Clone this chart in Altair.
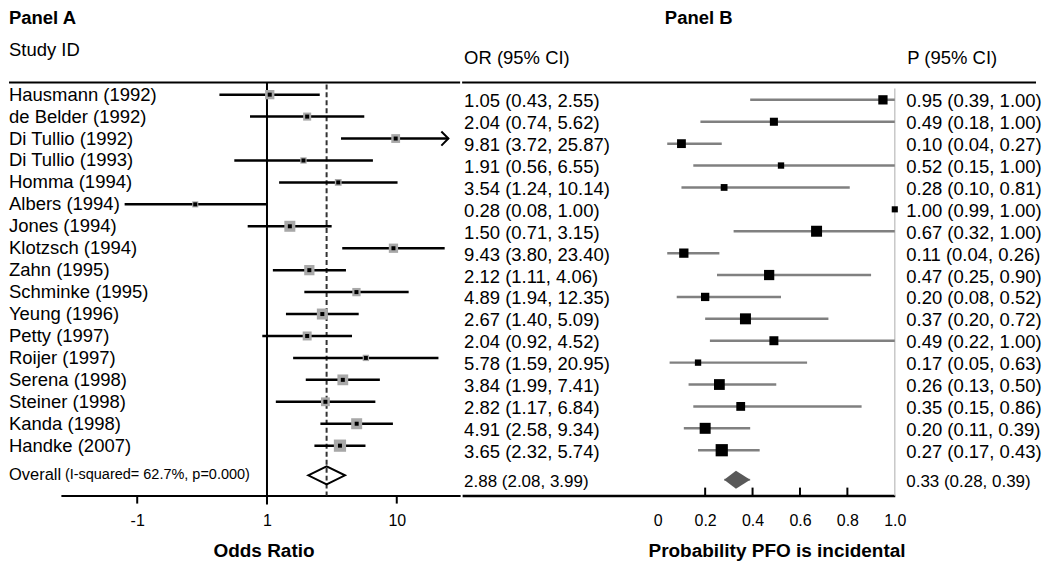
import altair as alt
import pandas as pd

# ---------------- data ----------------
studies = ["Hausmann (1992)", "de Belder (1992)", "Di Tullio (1992)", "Di Tullio (1993)",
           "Homma (1994)", "Albers (1994)", "Jones (1994)", "Klotzsch (1994)", "Zahn (1995)",
           "Schminke (1995)", "Yeung (1996)", "Petty (1997)", "Roijer (1997)", "Serena (1998)",
           "Steiner (1998)", "Kanda (1998)", "Handke (2007)"]
or_est = [1.05, 2.04, 9.81, 1.91, 3.54, 0.28, 1.50, 9.43, 2.12, 4.89, 2.67, 2.04, 5.78, 3.84, 2.82, 4.91, 3.65]
or_lo = [0.43, 0.74, 3.72, 0.56, 1.24, 0.08, 0.71, 3.80, 1.11, 1.94, 1.40, 0.92, 1.59, 1.99, 1.17, 2.58, 2.32]
or_hi = [2.55, 5.62, 25.87, 6.55, 10.14, 1.00, 3.15, 23.40, 4.06, 12.35, 5.09, 4.52, 20.95, 7.41, 6.84, 9.34, 5.74]
p_est = [0.95, 0.49, 0.10, 0.52, 0.28, 1.00, 0.67, 0.11, 0.47, 0.20, 0.37, 0.49, 0.17, 0.26, 0.35, 0.20, 0.27]
p_lo = [0.39, 0.18, 0.04, 0.15, 0.10, 0.99, 0.32, 0.04, 0.25, 0.08, 0.20, 0.22, 0.05, 0.13, 0.15, 0.11, 0.17]
p_hi = [1.00, 1.00, 0.27, 1.00, 0.81, 1.00, 1.00, 0.26, 0.90, 0.52, 0.72, 1.00, 0.63, 0.50, 0.86, 0.39, 0.43]
weights = [6.0, 4.5, 5.4, 2.8, 3.2, 2.6, 8.4, 6.0, 7.3, 4.8, 8.4, 5.6, 2.8, 8.1, 5.4, 8.4, 10.4]

overall_label = "Overall"
overall_het = "(I-squared= 62.7%, p=0.000)"
overall_or = [2.88, 2.08, 3.99]
overall_p = [0.33, 0.28, 0.39]

or_tick_values = [0.1, 1, 10]
or_tick_labels = ["-1", "1", "10"]
p_tick_values = [0, 0.2, 0.4, 0.6, 0.8, 1.0]
p_tick_labels = ["0", "0.2", "0.4", "0.6", "0.8", "1.0"]
or_null = [1.0]
or_clip = 25.0
p_ref = [1.0]

# ---------------- layout / style ----------------
FONT = "Liberation Sans"
FS = 18.5
H = 488
WA = 400
WB = 433.5
LX = -52
ROW_OVERALL = 17.35
DH = 0.41


def fmt(e, l, h):
    return f"{e:.2f} ({l:.2f}, {h:.2f})"


def label_expr(values, labels):
    expr = "datum.label"
    for v, l in reversed(list(zip(values, labels))):
        expr = f"abs(datum.value - {v}) < {abs(v) * 1e-6 + 1e-9} ? '{l}' : ({expr})"
    return expr


def txt(s, x, y, size=FS, weight="normal", align="left", baseline="middle"):
    return alt.Chart(pd.DataFrame({"t": [s]})).mark_text(
        align=align, baseline=baseline, font=FONT, fontSize=size,
        fontWeight=weight, color="black"
    ).encode(x=alt.value(x), y=alt.value(y), text="t:N")


n = len(studies)
rows = list(range(n))
dfA = pd.DataFrame({"study": studies, "row": rows, "est": or_est, "lo": or_lo,
                    "hi": or_hi, "w": weights})
dfB = pd.DataFrame({"row": rows, "est": p_est, "lo": p_lo, "hi": p_hi, "w": weights,
                    "or_txt": [fmt(*t) for t in zip(or_est, or_lo, or_hi)],
                    "p_txt": [fmt(*t) for t in zip(p_est, p_lo, p_hi)]})
r0 = ROW_OVERALL
diaA = pd.DataFrame({"x": [overall_or[1], overall_or[0], overall_or[2]],
                     "y": [r0, r0 - DH, r0], "y2": [r0, r0 + DH, r0]})
diaB = pd.DataFrame({"x": [overall_p[1], overall_p[0], overall_p[2]],
                     "y": [r0, r0 - DH, r0], "y2": [r0, r0 + DH, r0]})
ovA = pd.DataFrame({"row": [r0], "est": [overall_or[0]], "lo": [overall_or[1]], "hi": [overall_or[2]],
                    "label": [overall_label], "het": [overall_het]})
ovB = pd.DataFrame({"row": [r0], "est": [overall_p[0]], "lo": [overall_p[1]], "hi": [overall_p[2]],
                    "or_txt": [fmt(*overall_or)], "p_txt": [fmt(*overall_p)]})

# ---------------- scales / axes ----------------
xA = alt.Scale(type="log", domain=[0.02582, 30.78], nice=False)
yA = alt.Scale(domain=[-3.926, 18.276], reverse=True, nice=False, zero=False)
xB = alt.Scale(domain=[-0.8253, 1.0], nice=False, zero=False)
yB = alt.Scale(domain=[-4.170, 18.072], reverse=True, nice=False, zero=False)

common_axis = dict(ticks=False, grid=False, domainColor="black", labelFont=FONT,
                   labelFontSize=16, labelColor="black", labelBaseline="middle",
                   labelPadding=25, labelAngle=0, labelOverlap=False, labelFlush=False,
                   labelBound=False,
                   titleFont=FONT, titleFontSize=19, titleFontWeight="bold",
                   titleColor="black", titleY=55, titleBaseline="middle")
axisA = alt.Axis(values=or_tick_values, labelExpr=label_expr(or_tick_values, or_tick_labels),
                 domainWidth=2, title="Odds Ratio", titleX=203, **common_axis)
axisB = alt.Axis(values=p_tick_values, labelExpr=label_expr(p_tick_values, p_tick_labels),
                 domainWidth=2.5, title="Probability PFO is incidental", titleX=315, **common_axis)


def XA(f):
    return alt.X(f, scale=xA, axis=axisA)


def YA(f):
    return alt.Y(f, scale=yA, axis=None)


def XB(f):
    return alt.X(f, scale=xB, axis=axisB)


def YB(f):
    return alt.Y(f, scale=yB, axis=None)


# ---------------- Panel A ----------------
topA = alt.Chart(pd.DataFrame({"a": [0]})).mark_rule(color="black", strokeWidth=2).encode(
    x=alt.value(LX), x2=alt.value(WA), y=alt.value(74))
nullA = alt.Chart(pd.DataFrame({"v": or_null})).mark_rule(color="black", strokeWidth=2).encode(
    x=XA("v:Q"), y=alt.value(74), y2=alt.value(H + 9))
dashA = alt.Chart(pd.DataFrame({"v": [overall_or[0]]})).mark_rule(
    color="#333333", strokeWidth=2, strokeDash=[5, 3]).encode(
    x=XA("v:Q"), y=alt.value(76), y2=alt.value(H))
ticksA = alt.Chart(pd.DataFrame({"v": or_tick_values})).mark_rule(color="black", strokeWidth=2).encode(
    x=XA("v:Q"), y=alt.value(H), y2=alt.value(H + 8))
ciA = alt.Chart(dfA).transform_calculate(hc=f"min(datum.hi, {or_clip})").mark_rule(
    color="black", strokeWidth=2.5).encode(x=XA("lo:Q"), x2="hc:Q", y=YA("row:Q"))
arrowA = alt.Chart(dfA).transform_filter(f"datum.hi > {or_clip}").transform_calculate(
    xc=f"{or_clip}").mark_point(shape="M -1 -1 L 0 0 L -1 1", filled=False, color="black",
                                 strokeWidth=2, size=200, opacity=1).encode(
    x=XA("xc:Q"), y=YA("row:Q"))
boxA = alt.Chart(dfA).mark_point(shape="square", filled=True, color="#a8a8a8", opacity=1).encode(
    x=XA("est:Q"), y=YA("row:Q"),
    size=alt.Size("w:Q", scale=alt.Scale(domain=[0, 10.4], range=[0, 150]), legend=None))
dotA = alt.Chart(dfA).mark_point(shape="square", filled=True, color="black", size=16, opacity=1).encode(
    x=XA("est:Q"), y=YA("row:Q"))
labA = alt.Chart(dfA).mark_text(align="left", baseline="middle", font=FONT, fontSize=FS,
                                color="black").encode(
    x=alt.value(LX), y=YA("row:Q"), text="study:N")
diamondA = alt.Chart(diaA).mark_area(fill="white", fillOpacity=0, stroke="black", strokeWidth=2).encode(
    x=XA("x:Q"), y=alt.Y("y:Q", scale=yA, axis=None, stack=None), y2="y2:Q")
ovLabA = alt.Chart(ovA).mark_text(align="left", baseline="middle", font=FONT, fontSize=16.5,
                                  color="black").encode(
    x=alt.value(LX), y=YA("row:Q"), text="label:N")
ovHetA = alt.Chart(ovA).mark_text(align="left", baseline="middle", font=FONT, fontSize=14.5,
                                  color="black").encode(
    x=alt.value(4), y=YA("row:Q"), text="het:N")

panelA = alt.layer(
    topA, nullA, dashA, ticksA, ciA, arrowA, boxA, dotA, labA, diamondA, ovLabA, ovHetA,
    txt("Panel A", LX, 0, size=18.5, weight="bold", baseline="top"),
    txt("Study ID", LX, 42),
).properties(width=WA, height=H)

# ---------------- Panel B ----------------
topB = alt.Chart(pd.DataFrame({"a": [0]})).mark_rule(color="black", strokeWidth=2).encode(
    x=alt.value(0), x2=alt.value(575), y=alt.value(74))
refB = alt.Chart(pd.DataFrame({"v": p_ref})).mark_rule(color="#c8c8c8", strokeWidth=1.5).encode(
    x=XB("v:Q"), y=alt.value(80), y2=alt.value(H))
ticksB = alt.Chart(pd.DataFrame({"v": p_tick_values[1:-1]})).mark_rule(color="black", strokeWidth=2).encode(
    x=XB("v:Q"), y=alt.value(H - 8), y2=alt.value(H))
ciB = alt.Chart(dfB).mark_rule(color="#808080", strokeWidth=2.5).encode(
    x=XB("lo:Q"), x2="hi:Q", y=YB("row:Q"))
boxB = alt.Chart(dfB).mark_point(shape="square", filled=True, color="black", opacity=1).encode(
    x=XB("est:Q"), y=YB("row:Q"),
    size=alt.Size("w:Q", scale=alt.Scale(domain=[0, 10.4], range=[0, 320]), legend=None))
ovCiB = alt.Chart(ovB).mark_rule(color="#999999", strokeWidth=2).encode(
    x=XB("lo:Q"), x2="hi:Q", y=YB("row:Q"))
diamondB = alt.Chart(diaB).mark_area(color="#595959", opacity=1).encode(
    x=XB("x:Q"), y=alt.Y("y:Q", scale=yB, axis=None, stack=None), y2="y2:Q")
orTxt = alt.Chart(dfB).mark_text(align="left", baseline="middle", font=FONT, fontSize=FS,
                                 color="black", dy=1.5).encode(
    x=alt.value(2), y=YB("row:Q"), text="or_txt:N")
pTxt = alt.Chart(dfB).mark_text(align="left", baseline="middle", font=FONT, fontSize=FS,
                                color="black", dy=1.5).encode(
    x=alt.value(445), y=YB("row:Q"), text="p_txt:N")
ovOrTxt = alt.Chart(ovB).mark_text(align="left", baseline="middle", font=FONT, fontSize=17,
                                   color="black", dy=2.5).encode(
    x=alt.value(2), y=YB("row:Q"), text="or_txt:N")
ovPTxt = alt.Chart(ovB).mark_text(align="left", baseline="middle", font=FONT, fontSize=17,
                                  color="black", dy=2.5).encode(
    x=alt.value(445), y=YB("row:Q"), text="p_txt:N")

panelB = alt.layer(
    topB, refB, ticksB, ciB, boxB, ovCiB, diamondB, orTxt, pTxt, ovOrTxt, ovPTxt,
    txt("Panel B", 237, 0, size=18.5, weight="bold", align="center", baseline="top"),
    txt("OR (95% CI)", 2, 49.5),
    txt("P (95% CI)", 446, 49.5),
).properties(width=WB, height=H)

chart = alt.hconcat(panelA, panelB, spacing=0).properties(padding=0).configure_view(stroke=None)

chart.save("out.html", embed_options={"renderer": "svg", "actions": False})
